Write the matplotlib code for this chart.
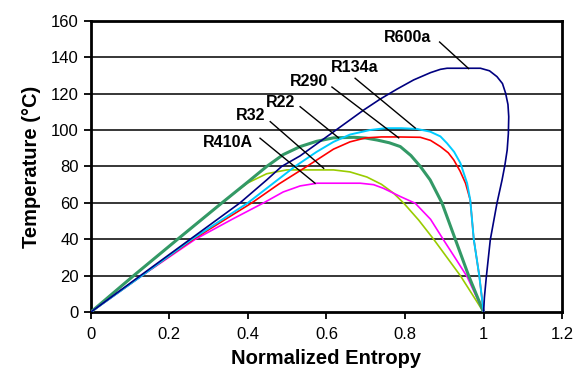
import matplotlib
matplotlib.use("Agg")
import matplotlib.pyplot as plt

plt.rcParams['font.family'] = ['Liberation Sans', 'DejaVu Sans']

# curves: (normalized entropy, temperature in C)
r600a_s = [0, 0.126, 0.253, 0.38, 0.448, 0.486, 0.533, 0.618, 0.695, 0.737, 0.78, 0.822,
           0.865, 0.89, 0.907, 0.992, 1.015, 1.034, 1.048, 1.056, 1.062, 1.064, 1.063, 1.06,
           1.054, 1.047, 1.034, 1.017, 1.007, 1.002, 1.0]
r600a_t = [0, 20, 40, 60, 72.6, 80, 85.8, 99, 111, 117, 122.5, 127.5,
           131.5, 133.3, 133.9, 133.9, 132.5, 129.3, 125.5, 120.2, 114, 107.3, 98, 89,
           80.5, 72.6, 59.8, 39.7, 19.5, 8, 0]

r134a_s = [0, 0.13, 0.257, 0.40, 0.46, 0.52, 0.575, 0.618, 0.66, 0.711, 0.75, 0.79, 0.83,
           0.864, 0.89, 0.907, 0.925, 0.941, 0.958, 0.966, 0.975, 0.989, 1.0]
r134a_t = [0, 20, 40, 60, 70, 80, 88, 93.5, 97.5, 100, 101, 101, 100.6,
           99.1, 96.5, 92.7, 88, 81.8, 70.8, 61.6, 40, 20, 0]

r290_s = [0, 0.13, 0.261, 0.41, 0.48, 0.55, 0.618, 0.66, 0.70, 0.74, 0.78, 0.839, 0.865,
          0.89, 0.91, 0.924, 0.94, 0.954, 0.966, 0.975, 0.989, 1.0]
r290_t = [0, 20, 40, 60, 70.5, 80, 89.5, 93.5, 95.7, 96.2, 96.2, 96, 94.3,
          90.9, 87.5, 83.6, 77.5, 70.8, 61.6, 40, 20, 0]

r22_s = [0, 0.109, 0.221, 0.334, 0.40, 0.448, 0.49, 0.533, 0.575, 0.618, 0.67, 0.70,
         0.729, 0.76, 0.788, 0.815, 0.839, 0.864, 0.894, 0.928, 0.962, 1.0]
r22_t = [0, 20, 40, 60, 71.5, 80, 86.5, 90.9, 93.8, 95.7, 96, 95.6,
         94.5, 93, 90.9, 86, 80, 72.6, 60, 40, 20, 0]

r32_s = [0, 0.13, 0.266, 0.36, 0.44, 0.49, 0.533, 0.576, 0.686, 0.72, 0.745, 0.788,
         0.826, 0.865, 0.898, 0.93, 0.958, 1.0]
r32_t = [0, 20, 40, 51, 60, 66, 69.3, 70.8, 70.8, 70, 68, 63.5,
         59.8, 51, 39.7, 29, 19.5, 0]

r410a_s = [0, 0.109, 0.221, 0.334, 0.363, 0.40, 0.448, 0.499, 0.618, 0.66, 0.703, 0.74,
           0.771, 0.797, 0.835, 0.873, 0.941, 1.0]
r410a_t = [0, 20, 40, 60, 65, 71, 76, 78.1, 78.1, 77, 74.2, 70.2,
           65.3, 59.8, 50.5, 40, 20, 0]

names = ['R600a', 'R134a', 'R290', 'R22', 'R32', 'R410A']
xticks = [0, 0.2, 0.4, 0.6, 0.8, 1, 1.2]
yticks = [0, 20, 40, 60, 80, 100, 120, 140, 160]

fig = plt.figure(figsize=(5.85, 3.73), dpi=100)
ax = fig.add_axes([0.155, 0.163, 0.806, 0.7815])

ax.set_xlim(0, 1.2)
ax.set_ylim(0, 160)
for y in yticks[1:-1]:
    ax.axhline(y, color='black', lw=1.1, zorder=1)

ax.plot(r410a_s, r410a_t, color='#99CC00', lw=1.2, zorder=3)
ax.plot(r32_s, r32_t, color='#FF00FF', lw=1.2, zorder=3)
ax.plot(r22_s, r22_t, color='#339966', lw=2.2, zorder=3)
ax.plot(r290_s, r290_t, color='#FF0000', lw=1.2, zorder=3)
ax.plot(r134a_s, r134a_t, color='#00CCFF', lw=1.4, zorder=3)
ax.plot(r600a_s, r600a_t, color='#000080', lw=1.2, zorder=4)

# label text centre, leader start, leader end
label_pos = {
    'R600a': ((0.807, 150.8), (0.888, 148.3), (0.962, 133.7)),
    'R134a': ((0.672, 134.3), (0.673, 128.4), (0.826, 101.1)),
    'R290': ((0.556, 126.9), (0.614, 123.6), (0.784, 95.7)),
    'R22': ((0.484, 115.0), (0.533, 112.8), (0.631, 95.7)),
    'R32': ((0.408, 107.8), (0.457, 104.6), (0.593, 79.0)),
    'R410A': ((0.349, 93.2), (0.431, 95.5), (0.571, 70.8)),
}
for n in names:
    txt, a, b = label_pos[n]
    ax.text(txt[0], txt[1], n, fontsize=11.5, fontweight='bold', ha='center', va='center', zorder=5)
    ax.plot([a[0], b[0]], [a[1], b[1]], color='black', lw=1.0, zorder=5)

ax.set_xticks(xticks)
ax.set_xticklabels(['0', '0.2', '0.4', '0.6', '0.8', '1', '1.2'])
ax.set_yticks(yticks)
ax.tick_params(axis='both', direction='out', length=5, width=1.3, labelsize=12, color='black')
ax.tick_params(axis='x', pad=6)
for s in ax.spines.values():
    s.set_linewidth(2)
    s.set_color('black')

ax.set_xlabel('Normalized Entropy', fontsize=14.5, fontweight='bold', labelpad=5)
ax.set_ylabel('Temperature (°C)', fontsize=14.5, fontweight='bold', labelpad=7)

fig.savefig('out.png', dpi=100)
